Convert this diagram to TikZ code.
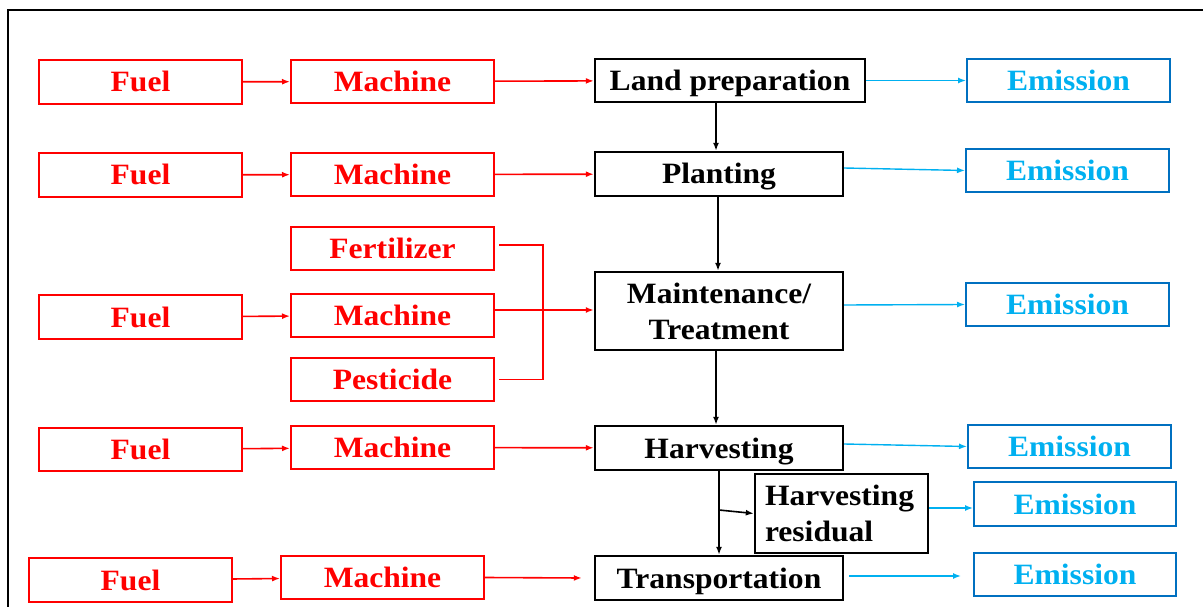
\documentclass[tikz,border=0pt]{standalone}
\usepackage{fontspec}
\setmainfont{Liberation Serif}[FakeStretch=1.07]
\usetikzlibrary{arrows.meta}
\definecolor{inred}{RGB}{255,0,0}
\definecolor{emborder}{RGB}{0,112,192}
\definecolor{emtext}{RGB}{0,176,240}
\begin{document}
\begin{tikzpicture}[x=1pt,y=-1pt,
  box/.style={draw, rectangle, inner sep=0pt, align=center,
    font=\bfseries\fontsize{29.5}{36}\selectfont},
  oneline/.style={text height=20pt, text depth=0pt},
  inbox/.style={box, oneline, draw=inred, text=inred, line width=2pt,
    minimum width=203pt, minimum height=43pt},
  stagebox/.style={box, draw=black, line width=2.4pt,
    minimum width=248pt, minimum height=44pt},
  embox/.style={box, oneline, draw=emborder, text=emtext, line width=2pt,
    minimum width=203pt, minimum height=43pt},
  redarrow/.style={draw=inred, line width=1.6pt, -{Latex[length=8pt,width=6pt]}},
  redline/.style={draw=inred, line width=1.6pt},
  blkarrow/.style={draw=black, line width=1.6pt, -{Latex[length=8pt,width=6pt]}},
  bluearrow/.style={draw=emtext, line width=1.4pt, -{Latex[length=8pt,width=6pt]}}
]
\useasboundingbox (0,0) rectangle (1203,607);

% outer frame
\draw[line width=2.5pt] (8,607) -- (8,10) -- (1203,10);

% stages
\node[stagebox, oneline, minimum width=270pt, minimum height=43pt] (land) at (730,80.5) {Land preparation};
\node[stagebox, oneline] (plant) at (719,174) {Planting};
\node[stagebox, minimum height=78pt] (maint) at (719,311) {Maintenance/\\Treatment};
\node[stagebox, oneline] (harv) at (719,448) {Harvesting};
\node[stagebox, align=left, text width=153pt, inner xsep=10pt,
  minimum width=173pt, minimum height=79pt] (resid) at (841.5,513.5) {Harvesting\\residual};
\node[stagebox, oneline] (trans) at (719,578) {Transportation};

% inputs
\node[inbox, minimum height=44pt] (f1) at (140.5,82) {Fuel};
\node[inbox] (m1) at (392.5,81.5) {Machine};
\node[inbox, minimum height=44pt] (f2) at (140.5,175) {Fuel};
\node[inbox] (m2) at (392.5,174.5) {Machine};
\node[inbox] (fert) at (392.5,248.5) {Fertilizer};
\node[inbox] (m3) at (392.5,315.5) {Machine};
\node[inbox] (pest) at (392.5,379.5) {Pesticide};
\node[inbox, minimum height=44pt] (f3) at (140.5,317) {Fuel};
\node[inbox] (f4) at (140.5,449.5) {Fuel};
\node[inbox] (m4) at (392.5,447.5) {Machine};
\node[inbox, minimum height=44pt] (f5) at (130.5,580) {Fuel};
\node[inbox] (m5) at (382.5,577.5) {Machine};

% emissions
\node[embox] (e1) at (1068.5,80.5) {Emission};
\node[embox] (e2) at (1067.5,170.5) {Emission};
\node[embox] (e3) at (1067.5,304.5) {Emission};
\node[embox] (e4) at (1069.5,446.5) {Emission};
\node[embox, minimum width=202pt, minimum height=44pt] (e5) at (1075,504) {Emission};
\node[embox, minimum width=202pt] (e6) at (1075,574.5) {Emission};

% fuel -> machine -> stage
\draw[redarrow] (f1) -- (m1);
\draw[redarrow] (m1) -- (land);
\draw[redarrow] (f2) -- (m2);
\draw[redarrow] (m2) -- (plant);
\draw[redarrow] (f3) -- (m3);
\draw[redarrow] (f4) -- (m4);
\draw[redarrow] (m4) -- (harv);
\draw[redarrow] (f5) -- (m5);
\draw[redarrow] (m5.east) -- ([xshift=-12pt]trans.west);

% maintenance inputs joined by a bracket
\coordinate (join) at (543,310);
\draw[redline] ([shift={(4,-3.5)}]fert.east) -| (join) |- ([xshift=4pt]pest.east);
\draw[redline] (m3.east |- join) -- (join);
\draw[redarrow] (join) -- (join -| maint.west);

% stage sequence
\draw[blkarrow] ([xshift=-14pt]land.south) -- ([xshift=-14pt]land.south |- plant.north);
\draw[blkarrow] ([xshift=-1pt]plant.south) -- ([xshift=-1pt]plant.south |- maint.north);
\draw[blkarrow] ([xshift=-3pt]maint.south) -- ([xshift=-3pt]maint.south |- harv.north);
\draw[blkarrow] (harv.south) -- (trans.north);
\coordinate (branch) at (719,510);
\draw[blkarrow] (branch) -- (resid.west);

% emissions from each stage
\draw[bluearrow] (land.east) -- (e1.west);
\draw[bluearrow] ([yshift=6pt]plant.east) -- (e2.west);
\draw[bluearrow] ([yshift=6pt]maint.east) -- (e3.west);
\draw[bluearrow] ([yshift=4pt]harv.east) -- (e4.west);
\draw[bluearrow] ([yshift=5.5pt]resid.east) -- ([yshift=5.5pt]resid.east -| e5.west);
\draw[bluearrow] ([shift={(5,-2)}]trans.east) -- ([shift={(-12,-2)}]trans.east -| e6.west);
\end{tikzpicture}
\end{document}
